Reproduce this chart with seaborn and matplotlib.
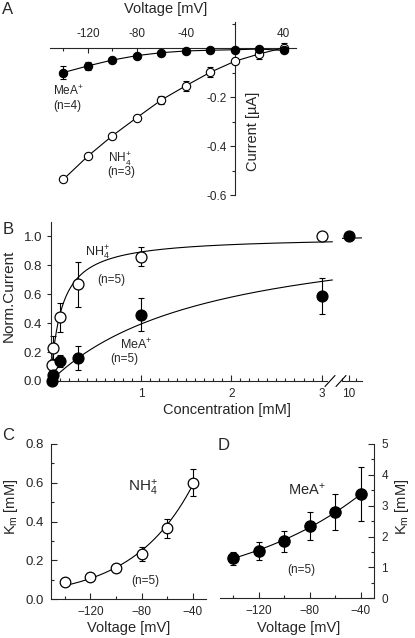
import numpy as np
import pandas as pd
import matplotlib
matplotlib.use('Agg')
import matplotlib.pyplot as plt
import seaborn as sns
from matplotlib.ticker import MultipleLocator, FixedLocator, FixedFormatter

# ---- data ----
# A: current-voltage relation
volt_A = [-140, -120, -100, -80, -60, -40, -20, 0, 20, 40]
nh4_I = [-0.536, -0.441, -0.358, -0.284, -0.212, -0.154, -0.099, -0.054, -0.024, 0.001]
nh4_I_err = [0.008, 0.008, 0.008, 0.010, 0.015, 0.020, 0.020, 0.012, 0.022, 0.018]
mea_I = [-0.100, -0.073, -0.049, -0.031, -0.019, -0.012, -0.009, -0.007, -0.004, -0.010]
mea_I_err = [0.025, 0.015, 0.008, 0.006, 0.005, 0.005, 0.004, 0.004, 0.004, 0.004]

# B: concentration dependence (normalized current)
nh4_conc = [0.01, 0.02, 0.1, 0.3, 1, 3]
nh4_norm = [0.11, 0.23, 0.44, 0.67, 0.86, 1.0]
nh4_norm_err = [0.03, 0.08, 0.10, 0.155, 0.065, 0.0]
mea_conc = [0.01, 0.03, 0.1, 0.3, 1, 3, 10]
mea_norm = [0.0, 0.04, 0.14, 0.16, 0.46, 0.59, 1.0]
mea_norm_err = [0.0, 0.02, 0.04, 0.085, 0.115, 0.125, 0.0]
# Michaelis-Menten fit parameters (Imax, Km)
nh4_fit = (1.0, 0.12)
mea_fit = (1.1, 1.79)

# C/D: Km vs voltage
volt_K = [-140, -120, -100, -80, -60, -40]
nh4_km = [0.086, 0.115, 0.158, 0.232, 0.365, 0.60]
nh4_km_err = [0.01, 0.01, 0.01, 0.035, 0.05, 0.07]
mea_km = [1.29, 1.53, 1.85, 2.34, 2.80, 3.38]
mea_km_err = [0.20, 0.29, 0.34, 0.46, 0.59, 0.86]
# exponential fit K(V) = K(-40) * exp((V + 40) / V0)
nh4_kfit = (0.59, 46.6)
mea_kfit = (3.38, 103.8)

NH4 = r'NH$_4^{{+}}$'
MEA = r'MeA$^{{+}}$'

W, H = 415, 638

sns.set_style('ticks')
plt.rcParams['font.family'] = ['Liberation Sans', 'DejaVu Sans']
plt.rcParams['mathtext.default'] = 'regular'
plt.rcParams['axes.linewidth'] = 0.8
plt.rcParams['xtick.major.width'] = 0.8
plt.rcParams['ytick.major.width'] = 0.8
plt.rcParams['xtick.minor.width'] = 0.8
plt.rcParams['ytick.minor.width'] = 0.8
plt.rcParams['xtick.labelsize'] = 8.5
plt.rcParams['ytick.labelsize'] = 8.5

fig = plt.figure(figsize=(W / 100, H / 100), dpi=100)


def box(x0, y0, x1, y1):
    return [x0 / W, 1 - y1 / H, (x1 - x0) / W, (y1 - y0) / H]


def ftext(x, y, s, **kw):
    fig.text(x / W, 1 - y / H, s, **kw)


def err(ax, x, y, e, **kw):
    ax.errorbar(x, y, yerr=e, fmt='none', ecolor='k', elinewidth=0.8,
                capsize=2, capthick=0.8, zorder=2, **kw)


line_kw = dict(color='k', linewidth=0.8)
open_kw = dict(color='white', edgecolor='k', linewidth=0.9, zorder=3, clip_on=False)
fill_kw = dict(color='k', edgecolor='k', linewidth=0.9, zorder=4, clip_on=False)

# ---------------- A ----------------
axA = fig.add_axes(box(50, 22.3, 296, 195))
err(axA, volt_A, nh4_I, nh4_I_err)
err(axA, volt_A, mea_I, mea_I_err)
sns.lineplot(x=volt_A, y=nh4_I, ax=axA, marker='o', markersize=6,
             markerfacecolor='white', markeredgecolor='k', markeredgewidth=0.8,
             zorder=3, **line_kw)
sns.lineplot(x=volt_A, y=mea_I, ax=axA, marker='o', markersize=6,
             markerfacecolor='k', markeredgecolor='k', markeredgewidth=0.8,
             zorder=4, **line_kw)
axA.set_xlim(-151, 50)
axA.set_ylim(-0.6, 0.105)
axA.spines['left'].set_position(('data', 0))
axA.spines['top'].set_position(('data', 0))
axA.spines['right'].set_visible(False)
axA.spines['bottom'].set_visible(False)
axA.xaxis.set_ticks_position('top')
axA.xaxis.set_major_locator(FixedLocator([-120, -80, -40, 0, 40]))
axA.xaxis.set_major_formatter(FixedFormatter(['-120', '-80', '-40', '', '40']))
axA.xaxis.set_minor_locator(FixedLocator([-140, -100, -60, -20, 20]))
axA.tick_params(axis='x', which='both', direction='in', pad=6)
axA.tick_params(axis='x', which='major', length=3.5)
axA.tick_params(axis='x', which='minor', length=2.5)
axA.yaxis.set_major_locator(FixedLocator([-0.6, -0.4, -0.2, 0]))
axA.yaxis.set_major_formatter(FixedFormatter(['-0.6', '-0.4', '-0.2', '']))
axA.yaxis.set_minor_locator(FixedLocator([-0.5, -0.3, -0.1, 0.1]))
axA.tick_params(axis='y', which='both', direction='out', pad=2)
axA.tick_params(axis='y', which='major', length=3.5)
axA.tick_params(axis='y', which='minor', length=2.5)
axA.set_xlabel('')
axA.set_ylabel('')

ftext(8, 10, 'A', fontsize=12, ha='center', va='center')
ftext(166, 9, 'Voltage [mV]', fontsize=10.5, ha='center', va='center')
ftext(253, 131, 'Current [µA]', fontsize=10.5, ha='center', va='center', rotation=90)
ftext(53, 95, MEA, fontsize=8.5, ha='left', va='baseline')
ftext(53, 106, '(n=4)', fontsize=8.5, ha='left', va='center')
ftext(108, 162, NH4, fontsize=8.5, ha='left', va='baseline')
ftext(107, 172, '(n=3)', fontsize=8.5, ha='left', va='center')

# ---------------- B ----------------
nh4_df = pd.DataFrame({'conc': nh4_conc, 'norm': nh4_norm, 'err': nh4_norm_err})
mea_df = pd.DataFrame({'conc': mea_conc, 'norm': mea_norm, 'err': mea_norm_err})
mea_main = mea_df[mea_df['conc'] <= 3]
mea_high = mea_df[mea_df['conc'] > 3]

axB = fig.add_axes(box(50.7, 222, 327, 381))
c_grid = np.linspace(0, 3.12, 300)
sns.lineplot(x=c_grid, y=nh4_fit[0] * c_grid / (nh4_fit[1] + c_grid), ax=axB,
             clip_on=False, **line_kw)
sns.lineplot(x=c_grid, y=mea_fit[0] * c_grid / (mea_fit[1] + c_grid), ax=axB,
             clip_on=False, **line_kw)
err(axB, nh4_df['conc'], nh4_df['norm'], nh4_df['err'], clip_on=False)
err(axB, mea_main['conc'], mea_main['norm'], mea_main['err'], clip_on=False)
sns.scatterplot(data=nh4_df, x='conc', y='norm', ax=axB, s=62, **open_kw)
sns.scatterplot(data=mea_main, x='conc', y='norm', ax=axB, s=62, **fill_kw)
axB.set_xlim(0, 3.06)
axB.set_ylim(0, 1.1)
sns.despine(ax=axB)
axB.xaxis.set_major_locator(FixedLocator([0, 1, 2, 3]))
axB.xaxis.set_major_formatter(FixedFormatter(['', '1', '2', '3']))
axB.xaxis.set_minor_locator(MultipleLocator(0.1))
axB.tick_params(axis='x', which='both', direction='in', pad=5)
axB.tick_params(axis='x', which='major', length=4)
axB.tick_params(axis='x', which='minor', length=2.5)
axB.yaxis.set_major_locator(MultipleLocator(0.2))
axB.yaxis.set_major_formatter(lambda v, p: f'{v:.1f}')
axB.tick_params(axis='y', direction='out', length=3, pad=3, labelsize=9.5)
axB.set_xlabel('')
axB.set_ylabel('')

axB2 = fig.add_axes(box(341.7, 222, 361.7, 381))
c_high = np.linspace(8.96, 11.8, 20)
sns.lineplot(x=c_high, y=nh4_fit[0] * c_high / (nh4_fit[1] + c_high), ax=axB2,
             **line_kw)
sns.scatterplot(data=mea_high, x='conc', y='norm', ax=axB2, s=62, **fill_kw)
axB2.set_xlim(8.96, 11.8)
axB2.set_ylim(0, 1.1)
for side in ['left', 'top', 'right']:
    axB2.spines[side].set_visible(False)
axB2.set_yticks([])
axB2.xaxis.set_major_locator(FixedLocator([10]))
axB2.xaxis.set_minor_locator(FixedLocator([9, 11]))
axB2.tick_params(axis='x', which='both', direction='in', pad=5)
axB2.tick_params(axis='x', which='major', length=4)
axB2.tick_params(axis='x', which='minor', length=2.5)
axB2.set_xlabel('')
axB2.set_ylabel('')

# axis break marks
for x0, x1 in [(325, 335), (336, 346)]:
    fig.add_artist(plt.Line2D([x0 / W, x1 / W], [1 - 386.5 / H, 1 - 375.5 / H],
                              color='k', linewidth=0.8))

ftext(8, 229, 'B', fontsize=12, ha='center', va='center')
ftext(9, 296, 'Norm.Current', fontsize=11, ha='center', va='center', rotation=90)
ftext(227, 410, 'Concentration [mM]', fontsize=10.5, ha='center', va='center')
ftext(85, 256, NH4, fontsize=9, ha='left', va='baseline')
ftext(97, 280, '(n=5)', fontsize=8.5, ha='left', va='center')
ftext(120, 349, MEA, fontsize=9, ha='left', va='baseline')
ftext(110, 359, '(n=5)', fontsize=8.5, ha='left', va='center')

# ---------------- C ----------------
axC = fig.add_axes(box(50.7, 444, 205.7, 599))
v_grid = np.linspace(-140, -40, 200)
sns.lineplot(x=v_grid, y=nh4_kfit[0] * np.exp((v_grid + 40) / nh4_kfit[1]), ax=axC,
             **line_kw)
err(axC, volt_K, nh4_km, nh4_km_err)
sns.scatterplot(x=volt_K, y=nh4_km, ax=axC, s=58, **open_kw)
axC.set_xlim(-151, -30)
axC.set_ylim(0, 0.8)
sns.despine(ax=axC)
axC.xaxis.set_major_locator(FixedLocator([-120, -80, -40]))
axC.xaxis.set_minor_locator(FixedLocator([-140, -100, -60]))
axC.yaxis.set_major_locator(MultipleLocator(0.2))
axC.yaxis.set_major_formatter(lambda v, p: f'{v:.1f}')
axC.yaxis.set_minor_locator(MultipleLocator(0.1))
axC.tick_params(which='both', direction='in', pad=5)
axC.tick_params(which='major', length=4)
axC.tick_params(which='minor', length=2.5)
axC.tick_params(axis='y', labelsize=9.5)
axC.set_xlabel('')
axC.set_ylabel('')

ftext(8, 435, 'C', fontsize=12, ha='center', va='center')
ftext(11, 507, r'K$_m$ [mM]', fontsize=10.5, ha='center', va='center', rotation=90)
ftext(129, 628, 'Voltage [mV]', fontsize=10.5, ha='center', va='center')
ftext(128, 492, NH4, fontsize=11, ha='left', va='baseline')
ftext(131, 581, '(n=5)', fontsize=8.5, ha='left', va='center')

# ---------------- D ----------------
axD = fig.add_axes(box(220, 444, 374.3, 598.3))
sns.lineplot(x=v_grid, y=mea_kfit[0] * np.exp((v_grid + 40) / mea_kfit[1]), ax=axD,
             **line_kw)
err(axD, volt_K, mea_km, mea_km_err)
sns.scatterplot(x=volt_K, y=mea_km, ax=axD, s=66, **fill_kw)
axD.set_xlim(-150.2, -29.6)
axD.set_ylim(0, 5)
sns.despine(ax=axD, left=True, right=False)
axD.yaxis.set_ticks_position('right')
axD.xaxis.set_major_locator(FixedLocator([-120, -80, -40]))
axD.xaxis.set_minor_locator(FixedLocator([-140, -100, -60]))
axD.yaxis.set_major_locator(MultipleLocator(1))
axD.yaxis.set_minor_locator(MultipleLocator(0.5))
axD.tick_params(which='both', direction='in', pad=5)
axD.tick_params(which='major', length=4)
axD.tick_params(which='minor', length=2.5)
axD.set_xlabel('')
axD.set_ylabel('')

ftext(224, 446, 'D', fontsize=12, ha='center', va='center')
ftext(402, 507, r'K$_m$ [mM]', fontsize=10.5, ha='center', va='center', rotation=90)
ftext(299, 628, 'Voltage [mV]', fontsize=10.5, ha='center', va='center')
ftext(288, 495, MEA, fontsize=10.5, ha='left', va='baseline')
ftext(287, 570, '(n=5)', fontsize=8.5, ha='left', va='center')

fig.savefig('out.png', dpi=100)
